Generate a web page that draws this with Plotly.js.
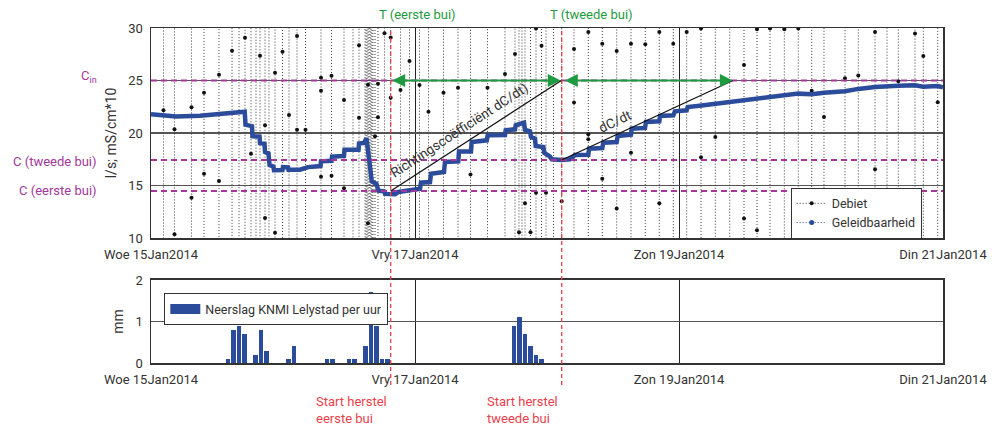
<!DOCTYPE html>
<html><head><meta charset="utf-8">
<script src="https://cdn.plot.ly/plotly-3.0.1.min.js"></script>
<style>html,body{margin:0;padding:0;background:#fff;}#chart{width:992px;height:425px;}</style>
</head><body><div id="chart"></div>
<script>
// x values are hours since Woe 15 Jan 2014 00:00
const tickHours = [0, 48, 96, 144];
const tickLabels = ['Woe 15Jan2014', 'Vry 17Jan2014', 'Zon 19Jan2014', 'Din 21Jan2014'];

// Geleidbaarheid (mS/cm*10)
const condHours = [0,4.55,8.91,14.36,17.04,17.18,18.36,18.45,19.73,19.82,
  20.64,20.73,21.36,21.55,22.27,22.36,23.91,24.0,24.91,25.0,
  27.09,28.55,30.82,30.91,32.82,32.91,35.09,35.18,37.73,37.82,
  38.73,39.18,39.45,39.69,39.91,40.13,41.0,41.33,42.36,42.55,
  44.36,45.0,47.64,48.91,49.09,50.73,50.91,53.27,53.45,55.87,
  56.0,58.18,58.31,61.04,61.22,64.36,64.49,66.18,66.31,67.09,
  67.4,67.82,68.0,68.91,69.09,69.82,69.95,71.33,71.51,72.55,
  72.85,74.67,76.18,77.0,77.09,79.51,79.64,82.05,82.24,84.67,
  84.85,87.27,87.4,89.82,90.0,92.42,92.55,94.96,95.27,97.4,
  97.58,100.13,102.67,105.27,107.82,110.0,112.55,115.27,117.69,120.13,
  122.36,126.18,128.6,131.64,134.18,135.87,138.91,140.42,143.04,144];
const condValues = [21.78,21.58,21.65,21.87,22.03,20.8,20.65,19.7,19.65,19.05,
  18.98,18.2,18.06,16.95,16.8,16.45,16.48,16.75,16.73,16.5,
  16.5,16.75,16.85,17.3,17.35,17.75,17.82,18.4,18.4,19.0,
  19.05,19.5,18.6,17.4,16.4,15.4,15.15,14.5,14.45,14.2,
  14.17,14.38,14.55,14.7,15.27,15.33,16.12,16.29,17.24,17.3,
  18.25,18.25,19.14,19.3,19.78,19.8,20.26,20.35,20.73,20.83,
  20.98,20.98,20.3,20.16,19.62,19.46,18.76,18.67,18.1,17.75,
  17.5,17.43,17.5,17.75,17.9,17.93,18.5,18.57,19.08,19.14,
  19.71,19.84,20.41,20.48,21.05,21.11,21.62,21.68,22.06,22.16,
  22.48,22.63,22.79,22.95,23.15,23.28,23.43,23.65,23.75,23.7,
  23.84,23.97,24.2,24.38,24.48,24.5,24.54,24.4,24.48,24.35];

// Debiet (l/s): pump switching moments (value leaves the 10-30 window) and the samples read inside the window
const flowSwitchHours = [2.27,4.27,7.36,9.64,12.36,14.73,16.0,17.09,18.18,19.09,
  19.82,20.73,21.45,22.55,23.91,25.09,26.55,28.09,30.91,32.82,
  35.09,36.73,37.82,38.91,39.09,39.27,39.45,39.64,39.82,40.0,
  40.18,40.36,40.73,41.27,42.45,43.58,45.36,47.0,48.82,50.45,
  53.18,55.82,58.09,61.18,64.36,66.18,66.91,67.45,68.0,69.0,
  70.0,71.0,71.82,73.18,74.67,76.91,79.51,82.05,84.67,87.27,
  89.87,92.42,94.96,97.4,100.0,102.6,105.22,107.82,110.18,112.55,
  115.15,117.69,120.13,122.36,126.18,128.6,131.64,133.82,135.87,138.91,
  140.42,143.04];
const flowDotHours = [2.27,4.27,4.27,7.36,7.36,9.64,9.64,12.36,12.36,14.73,
  17.09,18.18,19.82,20.73,20.73,22.55,22.55,23.91,25.09,26.55,
  26.55,28.09,30.91,30.91,30.91,32.82,32.82,35.09,35.09,37.82,
  37.82,39.45,39.45,40.73,41.27,41.27,42.45,43.58,43.58,45.36,
  47.0,48.82,50.45,53.18,55.82,58.09,61.18,64.36,66.18,66.91,
  68.0,69.0,70.0,70.0,71.0,71.82,74.67,76.91,76.91,79.51,
  79.51,79.51,82.05,82.05,84.67,84.67,87.27,87.27,89.87,92.42,
  92.42,94.96,97.4,100.0,100.0,102.6,107.82,107.82,110.18,110.18,
  112.55,112.55,115.15,117.69,120.13,122.36,126.18,128.6,131.64,131.64,
  135.87,138.91,140.42,143.04];
const flowDotValues = [22.16,20.35,10.35,22.45,13.84,23.84,16.12,25.55,15.43,27.84,
  29.08,18.03,27.36,20.73,11.9,25.74,10.5,27.75,21.71,29.24,
  20.32,20.32,25.27,24.03,15.84,25.46,15.93,23.14,14.73,28.35,
  21.45,24.6,11.4,19.7,24.7,21.5,29.5,29.1,23.36,24.1,
  26.86,24.57,22.03,23.84,24.31,16.05,24.31,25.63,27.53,10.54,
  13.3,10.54,29.95,14.3,28.3,14.3,13.5,28.0,22.9,29.63,
  19.87,19.4,28.5,15.65,27.8,12.8,28.5,18.12,28.45,29.62,
  13.3,28.5,29.62,29.95,17.7,19.62,26.48,11.86,29.88,10.74,
  29.95,23.47,29.88,29.95,24.02,21.53,25.22,25.47,29.62,16.54,
  24.93,29.48,27.33,22.94];
const flowOff = 0, flowOn = 40;   // plateaus outside the visible window

// Neerslag KNMI Lelystad per uur (mm)
const rainHours = [14,15,16,17,19,20,21,25,26,32,33,36,37,39,40,41,42,43,66,67,68,69,70,71];
const rainMm    = [0.1,0.8,0.9,0.7,0.2,0.8,0.3,0.1,0.4,0.1,0.1,0.1,0.1,0.4,1.7,0.9,0.1,0.1,0.9,1.1,0.7,0.4,0.2,0.1];

// Reference levels
const levelLabels = ['C<sub>in</sub>', 'C (tweede bui)', 'C (eerste bui)'];
const levelValues = [25, 17.43, 14.48];
const levelLabelY = [25.35, 17.27, 14.5];

// Recovery after each shower
const recoveryStartHours = [43.58, 74.67];
const recoveryStartC     = [14.48, 17.43];
const recoveryEndHours   = [74.6, 105.8];
const recoveryLabels     = ['Start herstel<br>eerste bui', 'Start herstel<br>tweede bui'];
const periodLabels       = ['T (eerste bui)', 'T (tweede bui)'];
const periodLabelHours   = [48.4, 80.0];
const slopeLabels        = ['Richtingscoëfficiënt dC/dt)', 'dC/dt'];
const slopeLabelHours    = [56.0, 84.4];
const slopeLabelC        = [20.25, 21.1];
const slopeAngles        = [-33.1, -25.2];

const BLUE = '#2b4b9b', MAG = '#a3379a', GREEN = '#1e9a40', RED = '#ea3f4b', TXT = '#333';
const FONT = 'Roboto, "Noto Sans", sans-serif';

// build Debiet step trace
const fx = [0], fy = [flowOff];
let state = flowOff;
flowSwitchHours.forEach(h => {
  const next = state === flowOff ? flowOn : flowOff;
  const dots = [];
  flowDotHours.forEach((dh, j) => { if (Math.abs(dh - h) < 0.03) dots.push(flowDotValues[j]); });
  dots.sort((a, b) => next > state ? a - b : b - a);
  dots.forEach(v => { fx.push(h); fy.push(v); });
  fx.push(h); fy.push(next);
  state = next;
});
fx.push(144); fy.push(state);

const traces = [
  {x: fx, y: fy, xaxis: 'x', yaxis: 'y', name: 'Debiet', mode: 'lines+markers',
   line: {shape: 'hv', color: '#3a3a3a', width: 1, dash: '1px,2px'},
   marker: {color: '#111', size: 4}},
  {x: condHours, y: condValues, xaxis: 'x', yaxis: 'y', mode: 'lines', showlegend: false,
   line: {color: BLUE, width: 4.5}, name: 'Geleidbaarheid'},
  {x: [null], y: [null], xaxis: 'x', yaxis: 'y', name: 'Geleidbaarheid', mode: 'lines+markers',
   line: {color: BLUE, width: 1, dash: '1px,2px'}, marker: {color: BLUE, size: 5}},
  {x: rainHours, y: rainMm, xaxis: 'x2', yaxis: 'y2', type: 'bar', width: 0.85, showlegend: false,
   name: 'Neerslag KNMI Lelystad per uur', marker: {color: BLUE, line: {width: 0}}},
  {x: [null], y: [null], xaxis: 'x2', yaxis: 'y2', mode: 'lines', name: 'Neerslag KNMI Lelystad per uur',
   line: {color: BLUE, width: 12}, legend: 'legend2'}
];

const axBase = {showline: true, linecolor: '#333', linewidth: 1.5, mirror: true, zeroline: false,
  ticks: '', tickfont: {size: 13, color: TXT, family: FONT}, fixedrange: true};

const shapes = [];
levelValues.forEach(v => shapes.push({type: 'line', xref: 'x', yref: 'y', x0: 0, x1: 144, y0: v, y1: v,
  line: {color: MAG, width: 2, dash: '6px,4px'}, layer: 'above'}));
recoveryStartHours.forEach(h => shapes.push({type: 'line', xref: 'x', yref: 'paper', x0: h, x1: h, y0: -0.066, y1: 1,
  line: {color: RED, width: 1.3, dash: '4px,3px'}, layer: 'above'}));
recoveryStartHours.forEach((h, i) => shapes.push({type: 'line', xref: 'x', yref: 'y', x0: h, y0: recoveryStartC[i],
  x1: recoveryEndHours[i], y1: levelValues[0], line: {color: '#111', width: 1.3}, layer: 'above'}));

const annotations = [];
recoveryStartHours.forEach((h, i) => {
  annotations.push({xref: 'x', yref: 'y', axref: 'x', ayref: 'y', x: recoveryEndHours[i] + (i === 0 ? -0.1 : 0), y: levelValues[0],
    ax: h + (i === 0 ? 0 : 0.3), ay: levelValues[0], text: '', showarrow: true, arrowside: 'end+start',
    arrowhead: 2, arrowsize: 1.3, arrowwidth: 2, arrowcolor: GREEN});
  annotations.push({xref: 'x', yref: 'paper', x: periodLabelHours[i], y: 1.039, text: periodLabels[i],
    showarrow: false, font: {size: 13, color: GREEN, family: FONT}, yanchor: 'middle'});
  annotations.push({xref: 'x', yref: 'paper', x: h, y: -0.088, xanchor: 'right', yanchor: 'top', align: 'left',
    xshift: -2, text: recoveryLabels[i], showarrow: false, font: {size: 13, color: RED, family: FONT}});
  annotations.push({xref: 'x', yref: 'y', x: slopeLabelHours[i], y: slopeLabelC[i], text: slopeLabels[i],
    textangle: slopeAngles[i], showarrow: false, font: {size: 13.5, color: TXT, family: FONT}});
});
levelLabels.forEach((t, i) => annotations.push({xref: 'paper', yref: 'y', x: -0.066, y: levelLabelY[i],
  xanchor: 'right', text: t, showarrow: false, font: {size: 13, color: MAG, family: FONT}}));

const layout = {
  width: 992, height: 425,
  margin: {l: 151, r: 49, t: 28, b: 62},
  paper_bgcolor: '#fff', plot_bgcolor: '#fff',
  font: {family: FONT, color: TXT, size: 13},
  bargap: 0,
  xaxis: Object.assign({}, axBase, {domain: [0, 1], range: [0, 144], anchor: 'y', tickvals: tickHours, ticktext: tickLabels,
    showgrid: true, gridcolor: '#222', gridwidth: 1, ticklabelstandoff: 4}),
  yaxis: Object.assign({}, axBase, {domain: [0.3731, 1], range: [10, 30], anchor: 'x', tickvals: [10, 15, 20, 25, 30],
    showgrid: true, gridcolor: '#555', gridwidth: 1.3, ticklabelstandoff: 4,
    title: {text: 'l/s; mS/cm*10', font: {size: 14, color: TXT, family: FONT}, standoff: 8}}),
  xaxis2: Object.assign({}, axBase, {domain: [0, 1], range: [0, 144], anchor: 'y2', tickvals: tickHours, ticktext: tickLabels,
    showgrid: true, gridcolor: '#222', gridwidth: 1, ticklabelstandoff: 4}),
  yaxis2: Object.assign({}, axBase, {domain: [0, 0.2478], range: [0, 2], anchor: 'x2', tickvals: [0, 1, 2],
    showgrid: true, gridcolor: '#555', gridwidth: 1.3, ticklabelstandoff: 4,
    title: {text: 'mm', font: {size: 14, color: TXT, family: FONT}, standoff: 8}}),
  legend: {x: 0.8077, y: 0.5233, xanchor: 'left', yanchor: 'top', bgcolor: '#fff', bordercolor: '#333', borderwidth: 1,
    font: {size: 12.5, color: TXT, family: FONT}, tracegroupgap: 0},
  legend2: {x: 0.0168, y: 0.208, xanchor: 'left', yanchor: 'top', bgcolor: '#fff', bordercolor: '#333', borderwidth: 1,
    font: {size: 12.5, color: TXT, family: FONT}},
  shapes: shapes,
  annotations: annotations,
  showlegend: true
};

Plotly.newPlot('chart', traces, layout, {displayModeBar: false, staticPlot: true});
</script>
</body></html>
